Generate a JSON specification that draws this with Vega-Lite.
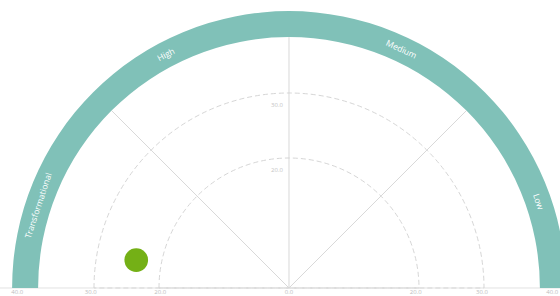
{
  "$schema": "https://vega.github.io/schema/vega-lite/v6.json",
  "width": 560,
  "height": 296,
  "autosize": {"type": "none"},
  "padding": 0,
  "background": "white",
  "config": {"view": {"stroke": null}, "font": "Open Sans"},
  "datasets": {
    "band": [{"start": -90, "end": 90, "inner": 38.6, "outer": 42.6}],
    "rings": [
      {"r": 20, "start": -90, "end": 90, "label": "20.0", "lx": -1.85, "ly": 18.2},
      {"r": 30, "start": -90, "end": 90, "label": "30.0", "lx": -1.85, "ly": 28.2}
    ],
    "spokes": [
      {"x": 0, "y": 0, "x2": -27.3, "y2": 27.3},
      {"x": 0, "y": 0, "x2": 0, "y2": 38.6},
      {"x": 0, "y": 0, "x2": 27.3, "y2": 27.3}
    ],
    "baseline": [{"x": -44.4615, "x2": 41.6923, "y": 0}],
    "ticks": [
      {"x": -41.8, "y": -0.62, "label": "40.0"},
      {"x": -30.5, "y": -0.62, "label": "30.0"},
      {"x": -19.8, "y": -0.62, "label": "20.0"},
      {"x": 0, "y": -0.62, "label": "0.0"},
      {"x": 19.5, "y": -0.62, "label": "20.0"},
      {"x": 29.7, "y": -0.62, "label": "30.0"},
      {"x": 40.5, "y": -0.62, "label": "40.0"}
    ],
    "segments": [
      {"name": "Transformational", "theta": -71.8, "rot": -71.8, "r": 40.6},
      {"name": "High", "theta": -27.8, "rot": -27.8, "r": 40.6},
      {"name": "Medium", "theta": 25.2, "rot": 25.2, "r": 40.6},
      {"name": "Low", "theta": 70.9, "rot": 70.9, "r": 40.6}
    ],
    "points": [{"x": -23.5, "y": 4.3}]
  },
  "layer": [
    {
      "data": {"name": "baseline"},
      "mark": {"type": "rule", "color": "#e2e2e2", "strokeWidth": 1},
      "encoding": {
        "x": {"field": "x", "type": "quantitative", "scale": {"domain": [-44.4615, 41.6923], "nice": false, "zero": false}, "axis": null},
        "x2": {"field": "x2"},
        "y": {"field": "y", "type": "quantitative", "scale": {"domain": [-1.2308, 44.3077], "nice": false, "zero": false}, "axis": null}
      }
    },
    {
      "data": {"name": "spokes"},
      "mark": {"type": "rule", "color": "#d9d9d9", "strokeWidth": 1},
      "encoding": {
        "x": {"field": "x", "type": "quantitative", "scale": {"domain": [-44.4615, 41.6923], "nice": false, "zero": false}, "axis": null},
        "y": {"field": "y", "type": "quantitative", "scale": {"domain": [-1.2308, 44.3077], "nice": false, "zero": false}, "axis": null},
        "x2": {"field": "x2"},
        "y2": {"field": "y2"}
      }
    },
    {
      "data": {"name": "rings"},
      "mark": {"type": "arc", "filled": false, "color": "#d6d6d6", "strokeWidth": 1, "strokeDash": [5, 3]},
      "encoding": {
        "x": {"datum": 0, "type": "quantitative", "scale": {"domain": [-44.4615, 41.6923], "nice": false, "zero": false}, "axis": null},
        "y": {"datum": 0, "type": "quantitative", "scale": {"domain": [-1.2308, 44.3077], "nice": false, "zero": false}, "axis": null},
        "theta": {"field": "start", "type": "quantitative", "scale": {"domain": [-90, 90], "range": [-1.5707963, 1.5707963], "zero": false, "nice": false}},
        "theta2": {"field": "end"},
        "radius": {"field": "r", "type": "quantitative", "scale": {"type": "linear", "domain": [0, 44.3077], "range": [0, 288], "zero": true, "nice": false}},
        "radius2": {"datum": 0}
      }
    },
    {
      "data": {"name": "band"},
      "mark": {"type": "arc", "color": "#80c1b8"},
      "encoding": {
        "x": {"datum": 0, "type": "quantitative", "scale": {"domain": [-44.4615, 41.6923], "nice": false, "zero": false}, "axis": null},
        "y": {"datum": 0, "type": "quantitative", "scale": {"domain": [-1.2308, 44.3077], "nice": false, "zero": false}, "axis": null},
        "theta": {"field": "start", "type": "quantitative", "scale": {"domain": [-90, 90], "range": [-1.5707963, 1.5707963], "zero": false, "nice": false}},
        "theta2": {"field": "end"},
        "radius": {"field": "outer", "type": "quantitative", "scale": {"type": "linear", "domain": [0, 44.3077], "range": [0, 288], "zero": true, "nice": false}},
        "radius2": {"field": "inner"}
      }
    },
    {
      "data": {"name": "rings"},
      "mark": {"type": "text", "color": "#c4c4c4", "fontSize": 6, "align": "center", "baseline": "middle"},
      "encoding": {
        "x": {"field": "lx", "type": "quantitative", "scale": {"domain": [-44.4615, 41.6923], "nice": false, "zero": false}, "axis": null},
        "y": {"field": "ly", "type": "quantitative", "scale": {"domain": [-1.2308, 44.3077], "nice": false, "zero": false}, "axis": null},
        "text": {"field": "label"}
      }
    },
    {
      "data": {"name": "ticks"},
      "mark": {"type": "text", "color": "#bdbdbd", "fontSize": 6, "align": "center", "baseline": "middle"},
      "encoding": {
        "x": {"field": "x", "type": "quantitative", "scale": {"domain": [-44.4615, 41.6923], "nice": false, "zero": false}, "axis": null},
        "y": {"field": "y", "type": "quantitative", "scale": {"domain": [-1.2308, 44.3077], "nice": false, "zero": false}, "axis": null},
        "text": {"field": "label"}
      }
    },
    {
      "data": {"name": "segments"},
      "mark": {"type": "text", "color": "white", "fontSize": 8.5, "align": "center", "baseline": "middle"},
      "encoding": {
        "x": {"datum": 0, "type": "quantitative", "scale": {"domain": [-44.4615, 41.6923], "nice": false, "zero": false}, "axis": null},
        "y": {"datum": 0, "type": "quantitative", "scale": {"domain": [-1.2308, 44.3077], "nice": false, "zero": false}, "axis": null},
        "theta": {"field": "theta", "type": "quantitative", "scale": {"domain": [-90, 90], "range": [-1.5707963, 1.5707963], "zero": false, "nice": false}},
        "radius": {"field": "r", "type": "quantitative", "scale": {"type": "linear", "domain": [0, 44.3077], "range": [0, 288], "zero": true, "nice": false}},
        "angle": {"field": "rot", "type": "quantitative", "scale": null},
        "text": {"field": "name"}
      }
    },
    {
      "data": {"name": "points"},
      "mark": {"type": "point", "filled": true, "opacity": 1, "size": 560, "color": "#74b016"},
      "encoding": {
        "x": {"field": "x", "type": "quantitative", "scale": {"domain": [-44.4615, 41.6923], "nice": false, "zero": false}, "axis": null},
        "y": {"field": "y", "type": "quantitative", "scale": {"domain": [-1.2308, 44.3077], "nice": false, "zero": false}, "axis": null}
      }
    }
  ]
}
